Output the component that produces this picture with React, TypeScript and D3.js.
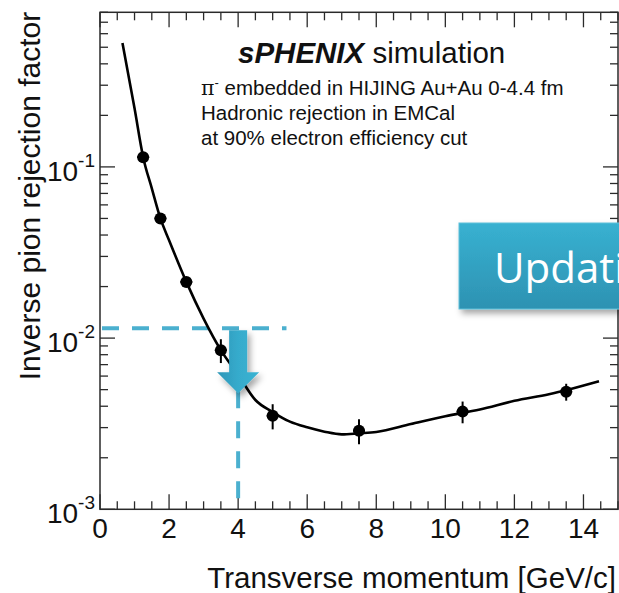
import React from "react";
import * as d3 from "d3";

// Data points (pT in GeV/c, inverse pion rejection factor)
const pointPt = [1.25, 1.75, 2.5, 3.5, 5.0, 7.5, 10.5, 13.5];
const pointRejection = [0.114, 0.05, 0.0213, 0.0085, 0.00352, 0.00288, 0.00372, 0.00486];
const pointError = [0.004, 0.0015, 0.0007, 0.00135, 0.00059, 0.00048, 0.00054, 0.00055];

// Fit curve
const curvePt = [0.65, 1.0, 1.25, 1.5, 1.75, 2.0, 2.5, 3.0, 3.5, 4.0, 4.5, 5.0, 5.5, 6.0, 6.5, 7.0, 7.5, 8.0, 9.0, 10.0, 11.0, 12.0, 13.0, 14.45];
const curveRejection = [0.53, 0.22, 0.114, 0.075, 0.05, 0.0373, 0.0213, 0.013, 0.0085, 0.0061, 0.00435, 0.0037, 0.00325, 0.00301, 0.00284, 0.00274, 0.00278, 0.00283, 0.00315, 0.0035, 0.00383, 0.0043, 0.0047, 0.0056];

// Cut annotation
const cutPt = 4;
const cutRejection = 0.0114;
const cutLineEndPt = 5.4;
const cutDropEnd = 0.00113;
const cutDropStart = 0.0049;

// Axes
const xDomain = [0, 15];
const yDomain = [0.001, 0.8];
const xMajorTicks = [0, 2, 4, 6, 8, 10, 12, 14];
const yDecadeExponents = [-3, -2, -1];

// Texts
const infoLines = ["embedded in HIJING Au+Au 0-4.4 fm", "Hadronic rejection in EMCal", "at 90% electron efficiency cut"];

const W = 619;
const H = 593;
const left = 100;
const right = 618;
const top = 12.3;
const bottom = 509.3;

export default function App() {
  const x = d3.scaleLinear().domain(xDomain).range([left, right]);
  const y = d3.scaleLog().domain(yDomain).range([bottom, top]);

  const line = d3
    .line<number>()
    .x((_, i) => x(curvePt[i]))
    .y((_, i) => y(curveRejection[i]))
    .curve(d3.curveMonotoneX);

  const xMinor = d3.range(0, 15.01, 0.5);
  const yMinor: number[] = [];
  for (let e = -3; e <= 0; e++) {
    for (let m = 1; m <= 9; m++) {
      const v = m * Math.pow(10, e);
      if (v >= yDomain[0] && v <= yDomain[1]) yMinor.push(v);
    }
  }

  const axisColor = "#2a2a2a";
  const blue = "#4bb0cf";
  const font = "'Liberation Sans', Arial, sans-serif";

  const ax = x(cutPt);
  const ay = y(cutRejection);

  return (
    <svg
      width={W}
      height={H}
      style={{ position: "fixed", left: 0, top: 0, background: "#fff" }}
      xmlns="http://www.w3.org/2000/svg"
    >
      <defs>
        <linearGradient id="boxGrad" x1="0" y1="0" x2="0" y2="1">
          <stop offset="0" stopColor="#38b1d1" />
          <stop offset="1" stopColor="#2d92b2" />
        </linearGradient>
        <linearGradient id="arrowGrad" x1="0" y1="0" x2="1" y2="0">
          <stop offset="0" stopColor="#2d96b8" />
          <stop offset="0.5" stopColor="#36abcc" />
          <stop offset="1" stopColor="#3ab3d2" />
        </linearGradient>
        <filter id="shadow" x="-20%" y="-20%" width="150%" height="150%">
          <feDropShadow dx="3" dy="4" stdDeviation="3" floodColor="#000" floodOpacity="0.35" />
        </filter>
      </defs>

      {/* frame */}
      <rect x={left} y={top} width={right - left} height={bottom - top} fill="none" stroke={axisColor} strokeWidth={1.5} />

      {/* x ticks bottom & top */}
      {xMinor.map((v) => {
        const major = Math.abs(v / 2 - Math.round(v / 2)) < 1e-6;
        const len = major ? 15 : 8;
        return (
          <g key={"xt" + v}>
            <line x1={x(v)} x2={x(v)} y1={bottom} y2={bottom - len} stroke={axisColor} strokeWidth={1.3} />
            <line x1={x(v)} x2={x(v)} y1={top} y2={top + len} stroke={axisColor} strokeWidth={1.3} />
          </g>
        );
      })}

      {/* y ticks left & right */}
      {yMinor.map((v) => {
        const major = Math.abs(Math.log10(v) - Math.round(Math.log10(v))) < 1e-6;
        const len = major ? 15 : 8;
        return (
          <g key={"yt" + v}>
            <line x1={left} x2={left + len} y1={y(v)} y2={y(v)} stroke={axisColor} strokeWidth={1.3} />
            <line x1={right} x2={right - len} y1={y(v)} y2={y(v)} stroke={axisColor} strokeWidth={1.3} />
          </g>
        );
      })}

      {/* x tick labels */}
      {xMajorTicks.map((v) => (
        <text key={"xl" + v} x={x(v)} y={bottom + 28.5} textAnchor="middle" fontFamily={font} fontSize={28} fill="#111">
          {v}
        </text>
      ))}

      {/* y tick labels */}
      {yDecadeExponents.map((e) => (
        <text key={"yl" + e} x={left - 5} y={y(Math.pow(10, e)) + 14} textAnchor="end" fontFamily={font} fontSize={28} fill="#111">
          10
          <tspan fontSize={19} dy={-14}>
            {"-" + Math.abs(e)}
          </tspan>
        </text>
      ))}

      {/* axis titles */}
      <text x={616} y={588} textAnchor="end" fontFamily={font} fontSize={29.5} fill="#111">
        Transverse momentum [GeV/c]
      </text>
      <text
        transform={`translate(40, 196) rotate(-90)`}
        textAnchor="middle"
        fontFamily={font}
        fontSize={30}
        fill="#111"
      >
        Inverse pion rejection factor
      </text>

      {/* header text */}
      <text x={238} y={63} fontFamily={font} fontSize={29.5} fill="#111">
        <tspan fontWeight="bold" fontStyle="italic">sPHENIX</tspan>
        <tspan> simulation</tspan>
      </text>
      <text x={201} y={95} fontFamily={font} fontSize={20.5} fill="#111">
        <tspan fontFamily="'DejaVu Serif', serif">π</tspan>
        <tspan fontSize={13} dy={-8}>-</tspan>
        <tspan dy={8}>{" " + infoLines[0]}</tspan>
      </text>
      <text x={201} y={120} fontFamily={font} fontSize={20.5} fill="#111">
        {infoLines[1]}
      </text>
      <text x={201} y={145} fontFamily={font} fontSize={20.5} fill="#111">
        {infoLines[2]}
      </text>

      {/* cut lines */}
      <line x1={left + 2} x2={x(cutLineEndPt)} y1={ay} y2={ay} stroke={blue} strokeWidth={4} strokeDasharray="17 13" />
      <line x1={ax} x2={ax} y1={y(cutDropStart)} y2={y(cutDropEnd)} stroke={blue} strokeWidth={4} strokeDasharray="17 13" />

      {/* fit curve */}
      <path d={line(curvePt) || ""} fill="none" stroke="#000" strokeWidth={2.6} />

      {/* points with error bars */}
      {pointPt.map((p, i) => (
        <g key={"pt" + i}>
          <line
            x1={x(p)}
            x2={x(p)}
            y1={y(pointRejection[i] + pointError[i])}
            y2={y(pointRejection[i] - pointError[i])}
            stroke="#000"
            strokeWidth={2}
          />
          <line x1={x(p) - 6} x2={x(p) + 6} y1={y(pointRejection[i])} y2={y(pointRejection[i])} stroke="#000" strokeWidth={2} />
          <circle cx={x(p)} cy={y(pointRejection[i])} r={6} fill="#000" />
        </g>
      ))}

      {/* arrow */}
      <path
        d={`M${ax - 9},${ay + 2} L${ax + 9},${ay + 2} L${ax + 9},${ay + 44} L${ax + 21},${ay + 44} L${ax},${ay + 65} L${ax - 21},${ay + 44} L${ax - 9},${ay + 44} Z`}
        fill="url(#arrowGrad)"
        filter="url(#shadow)"
      />

      {/* Updating box */}
      <g filter="url(#shadow)">
        <rect x={459} y={223} width={200} height={86} fill="url(#boxGrad)" stroke="#5fc0da" strokeWidth={1} />
      </g>
      <text x={494} y={283} fontFamily="'Open Sans', 'Noto Sans', sans-serif" fontSize={42} fill="#fff">
        Updating
      </text>
    </svg>
  );
}
